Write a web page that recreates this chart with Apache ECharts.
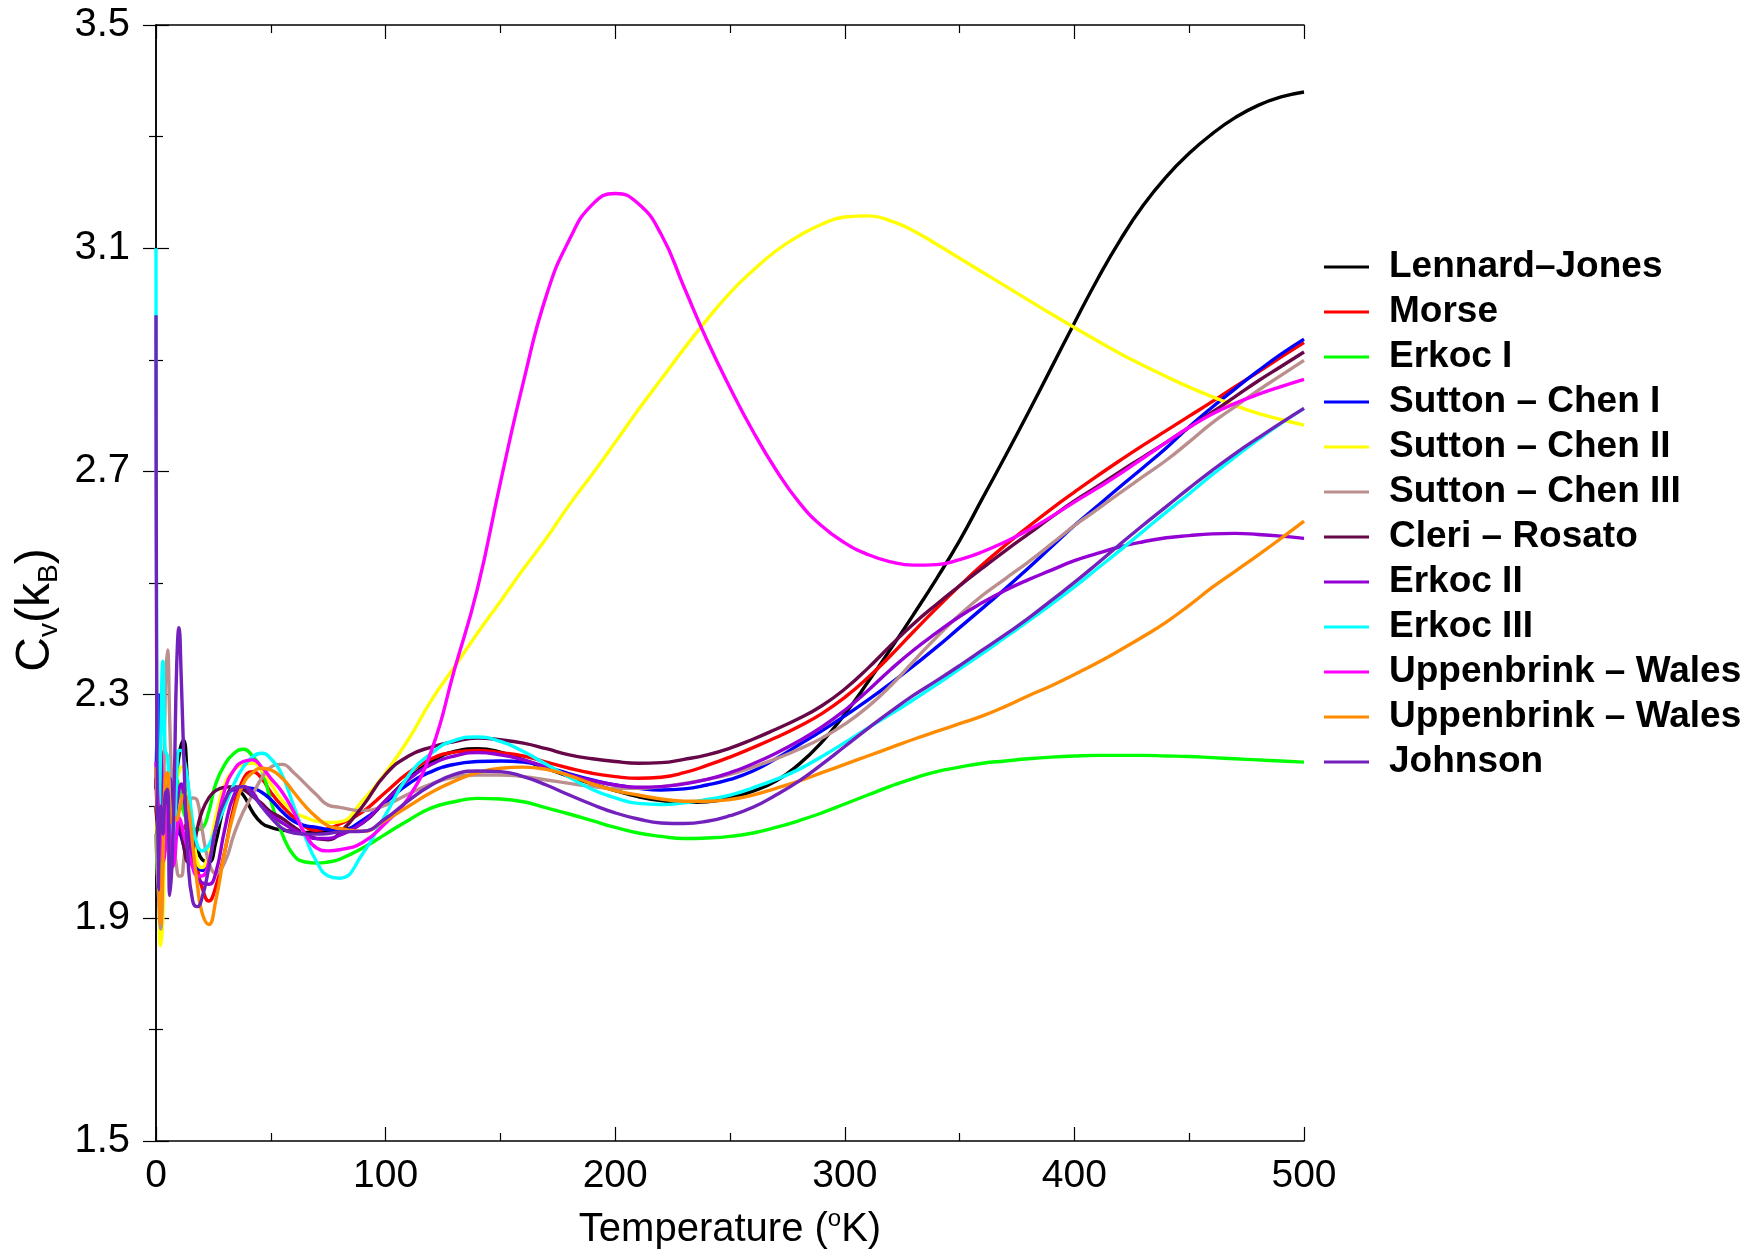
<!DOCTYPE html>
<html>
<head>
<meta charset="utf-8">
<script src="https://cdn.jsdelivr.net/npm/echarts@6/dist/echarts.min.js"></script>
<style>
html,body{margin:0;padding:0;background:#fff;}
#chart{width:1744px;height:1249px;}
</style>
</head>
<body>
<div id="chart"></div>
<script>
// Temperature grid (K)
const temperature = [0,1,2,3,4,5,6,7,8,9,10,11,12,14,16,18,20,23,26,30,34,38,42,46,50,55,60,65,70,75,
  80,90,100,110,120,130,140,150,160,170,180,190,200,210,220,230,240,250,260,270,280,290,300,310,320,330,340,350,
  360,370,380,390,400,410,420,430,440,450,460,470,480,490,500];

const seriesNames = ['Lennard\u2013Jones','Morse','Erkoc I','Sutton \u2013 Chen I','Sutton \u2013 Chen II',
  'Sutton \u2013 Chen III','Cleri \u2013 Rosato','Erkoc II','Erkoc III','Uppenbrink \u2013 Wales',
  'Uppenbrink \u2013 Wales','Johnson'];

const lennardJones = [2.10,2.05,2.00,2.08,2.13,2.10,2.08,2.10,2.12,2.16,2.19,2.21,2.218,2.13,2.06,2.025,2.005,2.00,2.035,2.105,2.133,2.12,2.09,2.07,2.062,2.057,2.055,2.053,2.053,2.055,
  2.057,2.07,2.11,2.15,2.18,2.198,2.203,2.197,2.183,2.168,2.153,2.14,2.128,2.117,2.11,2.107,2.108,2.115,2.127,2.145,2.175,2.215,2.265,2.322,2.382,2.444,2.508,2.576,
  2.652,2.728,2.806,2.886,2.966,3.044,3.115,3.177,3.228,3.27,3.305,3.334,3.356,3.371,3.38];
const morse = [2.15,2.10,2.20,2.18,2.12,2.15,2.17,2.14,2.10,2.07,2.05,2.055,2.06,2.07,2.04,1.99,1.955,1.93,1.955,2.02,2.10,2.148,2.162,2.15,2.125,2.10,2.08,2.063,2.057,2.06,
  2.068,2.09,2.125,2.16,2.185,2.197,2.20,2.196,2.19,2.179,2.168,2.159,2.153,2.15,2.152,2.16,2.173,2.188,2.205,2.223,2.243,2.266,2.295,2.33,2.37,2.413,2.455,2.495,
  2.533,2.568,2.601,2.633,2.663,2.692,2.72,2.747,2.773,2.799,2.825,2.852,2.878,2.905,2.931];
const erkoc1 = [2.05,1.95,2.08,2.14,2.14,2.10,2.13,2.15,2.16,2.15,2.13,2.11,2.09,2.07,2.062,2.058,2.06,2.09,2.14,2.175,2.195,2.202,2.19,2.165,2.11,2.05,2.012,2.00,1.998,2.00,
  2.005,2.025,2.05,2.075,2.097,2.108,2.114,2.113,2.108,2.097,2.086,2.074,2.062,2.052,2.046,2.042,2.043,2.046,2.052,2.062,2.074,2.088,2.104,2.12,2.136,2.15,2.162,2.17,
  2.177,2.181,2.185,2.188,2.19,2.191,2.191,2.191,2.19,2.189,2.187,2.185,2.183,2.181,2.179];
const suttonChen1 = [2.13,2.30,2.15,2.10,2.12,2.08,2.12,2.11,2.10,2.08,2.06,2.045,2.03,2.00,1.995,1.99,1.985,2.01,2.07,2.11,2.13,2.133,2.132,2.125,2.112,2.09,2.073,2.065,2.062,2.058,
  2.057,2.075,2.107,2.14,2.162,2.175,2.18,2.181,2.179,2.17,2.158,2.147,2.138,2.132,2.129,2.131,2.138,2.148,2.163,2.185,2.21,2.235,2.262,2.29,2.32,2.352,2.385,2.42,
  2.455,2.49,2.527,2.565,2.603,2.638,2.673,2.707,2.742,2.78,2.815,2.848,2.88,2.91,2.937];
const suttonChen2 = [2.10,2.00,1.85,1.90,2.10,2.15,2.12,2.12,2.13,2.15,2.16,2.17,2.17,2.13,2.06,2.00,1.99,2.02,2.08,2.14,2.165,2.175,2.177,2.165,2.14,2.11,2.09,2.08,2.073,2.071,
  2.072,2.11,2.16,2.22,2.29,2.35,2.41,2.467,2.525,2.58,2.64,2.695,2.752,2.81,2.865,2.92,2.972,3.02,3.06,3.095,3.122,3.143,3.156,3.158,3.149,3.131,3.107,3.082,
  3.057,3.032,3.007,2.982,2.958,2.934,2.911,2.89,2.87,2.851,2.834,2.818,2.804,2.793,2.783];
const suttonChen3 = [2.05,1.95,1.88,2.00,2.30,2.38,2.25,2.12,2.03,1.99,1.975,1.975,2.00,2.08,2.115,2.11,2.06,2.00,1.98,2.00,2.05,2.09,2.12,2.15,2.17,2.175,2.16,2.14,2.12,2.102,
  2.098,2.092,2.102,2.122,2.14,2.152,2.156,2.156,2.153,2.147,2.141,2.135,2.132,2.132,2.135,2.141,2.148,2.157,2.17,2.185,2.202,2.222,2.247,2.278,2.316,2.36,2.403,2.443,
  2.478,2.508,2.538,2.57,2.603,2.632,2.662,2.691,2.72,2.753,2.787,2.816,2.845,2.872,2.899];
const cleriRosato = [2.10,2.05,2.12,2.08,2.05,2.10,2.12,2.10,2.06,2.05,2.07,2.06,2.03,2.00,2.02,2.06,2.09,2.115,2.128,2.134,2.135,2.13,2.118,2.105,2.09,2.078,2.063,2.05,2.042,2.04,
  2.052,2.10,2.157,2.19,2.206,2.216,2.222,2.219,2.213,2.203,2.192,2.185,2.18,2.177,2.178,2.184,2.192,2.204,2.22,2.238,2.257,2.28,2.31,2.347,2.388,2.427,2.462,2.495,
  2.527,2.558,2.588,2.618,2.647,2.673,2.70,2.726,2.752,2.779,2.806,2.834,2.862,2.888,2.914];
const erkoc2 = [2.15,2.05,2.20,2.10,2.05,2.12,2.15,2.12,2.08,2.10,2.13,2.14,2.12,2.06,2.00,1.975,1.963,1.96,1.98,2.06,2.12,2.135,2.125,2.10,2.085,2.07,2.058,2.048,2.042,2.042,
  2.048,2.07,2.11,2.148,2.175,2.19,2.196,2.192,2.183,2.17,2.156,2.146,2.138,2.134,2.135,2.14,2.148,2.16,2.176,2.195,2.217,2.242,2.272,2.307,2.345,2.38,2.411,2.44,
  2.465,2.487,2.506,2.523,2.54,2.553,2.565,2.574,2.581,2.585,2.588,2.589,2.587,2.584,2.58];
const erkoc3 = [3.10,2.00,2.20,2.36,2.20,2.19,2.10,1.99,2.05,2.15,2.20,2.20,2.19,2.14,2.07,2.03,2.02,2.03,2.06,2.10,2.14,2.17,2.188,2.195,2.185,2.155,2.10,2.045,2.00,1.975,
  1.971,2.015,2.085,2.155,2.195,2.218,2.224,2.216,2.198,2.175,2.152,2.13,2.115,2.105,2.103,2.106,2.112,2.12,2.133,2.148,2.166,2.189,2.214,2.24,2.265,2.291,2.318,2.346,
  2.374,2.403,2.432,2.462,2.493,2.526,2.559,2.593,2.627,2.66,2.694,2.726,2.757,2.786,2.813];
const uppenbrinkWales1 = [2.18,2.10,2.05,2.00,2.02,2.10,2.05,1.99,2.00,2.05,2.08,2.07,2.05,2.02,1.99,1.975,1.975,2.00,2.06,2.13,2.165,2.18,2.183,2.17,2.15,2.125,2.09,2.05,2.025,2.02,
  2.022,2.035,2.07,2.115,2.20,2.345,2.49,2.68,2.86,3.015,3.115,3.178,3.198,3.18,3.125,3.03,2.935,2.85,2.772,2.703,2.645,2.602,2.572,2.551,2.538,2.532,2.533,2.542,
  2.556,2.574,2.595,2.619,2.645,2.67,2.696,2.724,2.752,2.779,2.803,2.822,2.838,2.852,2.865];
const uppenbrinkWales2 = [2.17,2.05,1.89,2.00,2.15,2.16,2.10,2.07,2.08,2.075,2.09,2.11,2.12,2.10,2.03,1.96,1.91,1.888,1.93,2.02,2.09,2.14,2.16,2.168,2.165,2.15,2.125,2.10,2.08,2.065,
  2.06,2.055,2.075,2.10,2.125,2.145,2.16,2.168,2.17,2.166,2.155,2.14,2.128,2.12,2.113,2.109,2.109,2.112,2.12,2.132,2.145,2.16,2.175,2.19,2.205,2.22,2.234,2.248,
  2.262,2.279,2.298,2.316,2.336,2.357,2.38,2.404,2.43,2.46,2.492,2.521,2.55,2.58,2.611];
const johnson = [2.98,1.95,2.10,2.05,2.12,2.13,1.94,2.00,2.15,2.35,2.42,2.33,2.20,2.00,1.93,1.92,1.935,1.99,2.06,2.11,2.132,2.135,2.12,2.10,2.08,2.06,2.052,2.05,2.05,2.051,
  2.054,2.055,2.078,2.11,2.138,2.157,2.163,2.162,2.153,2.138,2.12,2.103,2.088,2.077,2.07,2.069,2.073,2.083,2.098,2.12,2.145,2.175,2.207,2.239,2.27,2.299,2.325,2.352,
  2.38,2.408,2.437,2.469,2.501,2.535,2.57,2.604,2.637,2.67,2.702,2.732,2.76,2.787,2.813];

const xTicks = [0,100,200,300,400,500];
const yTicks = [1.5,1.9,2.3,2.7,3.1,3.5];

const allValues = [lennardJones,morse,erkoc1,suttonChen1,suttonChen2,suttonChen3,cleriRosato,erkoc2,erkoc3,uppenbrinkWales1,uppenbrinkWales2,johnson];
const colors = ['#000000','#ff0000','#00ff00','#0000ff','#ffff00','#bc8f8f','#670748','#9400d3','#00ffff','#ff00ff','#ff8c00','#7221bc'];

const FONT = '"Liberation Sans", Arial, Helvetica, sans-serif';

const series = allValues.map((vals, k) => ({
  name: seriesNames[k] + '#' + k,
  type: 'line',
  data: temperature.map((t, i) => [t, vals[i]]),
  showSymbol: false,
  smooth: 0.5,
  lineStyle: { color: colors[k], width: 3.4 },
  itemStyle: { color: colors[k] },
  clip: true,
  z: 2 + k
}));

const axisLineStyle = { color: '#000', width: 1.5 };
const tickStyle = { color: '#000', width: 1.2 };

const chart = echarts.init(document.getElementById('chart'), null, { renderer: 'canvas' });
chart.setOption({
  animation: false,
  backgroundColor: '#ffffff',
  grid: { left: 156, right: 440, top: 25, bottom: 108, containLabel: false, outerBoundsMode: 'none' },
  legend: {
    orient: 'vertical',
    left: 1319,
    top: 242,
    itemWidth: 45,
    itemHeight: 3,
    itemGap: 5,
    icon: 'rect',
    selectedMode: false,
    formatter: (n) => n.split('#')[0],
    textStyle: { fontFamily: FONT, fontSize: 37, fontWeight: 'bold', color: '#000', lineHeight: 40, padding: [0, 0, 0, 15] },
    data: series.map(s => s.name)
  },
  xAxis: [{
    type: 'value', min: xTicks[0], max: xTicks[xTicks.length - 1], interval: 100, position: 'bottom',
    axisLine: { show: true, lineStyle: axisLineStyle },
    axisTick: { show: true, inside: true, length: 14, lineStyle: tickStyle },
    minorTick: { show: true, splitNumber: 2, length: 8, lineStyle: tickStyle },
    splitLine: { show: false },
    axisLabel: { fontFamily: FONT, fontSize: 39, color: '#000', margin: 16 },
    name: 'Temperature ({sup|o}K)',
    nameLocation: 'middle',
    nameGap: 66,
    nameTextStyle: { fontFamily: FONT, fontSize: 40, color: '#000', lineHeight: 46,
      rich: { sup: { fontFamily: FONT, fontSize: 24, color: '#000', verticalAlign: 'top', lineHeight: 20 } } }
  }, {
    type: 'value', min: xTicks[0], max: xTicks[xTicks.length - 1], interval: 100, position: 'top',
    axisLine: { show: true, lineStyle: axisLineStyle },
    axisTick: { show: true, inside: true, length: 14, lineStyle: tickStyle },
    minorTick: { show: true, splitNumber: 2, length: 8, lineStyle: tickStyle },
    splitLine: { show: false },
    axisLabel: { show: false }
  }],
  yAxis: [{
    type: 'value', min: yTicks[0], max: yTicks[yTicks.length - 1], interval: 0.4, position: 'left',
    axisLine: { show: true, lineStyle: axisLineStyle },
    axisTick: { show: true, inside: true, length: 13, lineStyle: tickStyle },
    minorTick: { show: true, splitNumber: 2, length: 7, lineStyle: tickStyle },
    splitLine: { show: false },
    axisLabel: { fontFamily: FONT, fontSize: 40, color: '#000', margin: 26, formatter: v => v.toFixed(1) },
    name: '{b|C}{s|v}{b|(k}{s|B}{b|)}',
    nameLocation: 'middle',
    nameRotate: 90,
    nameGap: 92,
    nameTextStyle: { fontFamily: FONT, fontSize: 48, color: '#000', padding: [0, 54, 0, 0],
      rich: {
        b: { fontFamily: FONT, fontSize: 48, color: '#000', lineHeight: 56 },
        s: { fontFamily: FONT, fontSize: 28, color: '#000', verticalAlign: 'bottom', lineHeight: 28 }
      } }
  }, {
    type: 'value', min: yTicks[0], max: yTicks[yTicks.length - 1], interval: 0.4, position: 'right',
    axisLine: { show: true, lineStyle: axisLineStyle },
    axisTick: { show: true, inside: true, length: 13, lineStyle: tickStyle },
    minorTick: { show: true, splitNumber: 2, length: 7, lineStyle: tickStyle },
    splitLine: { show: false },
    axisLabel: { show: false }
  }],
  series: series
});
</script>
</body>
</html>
